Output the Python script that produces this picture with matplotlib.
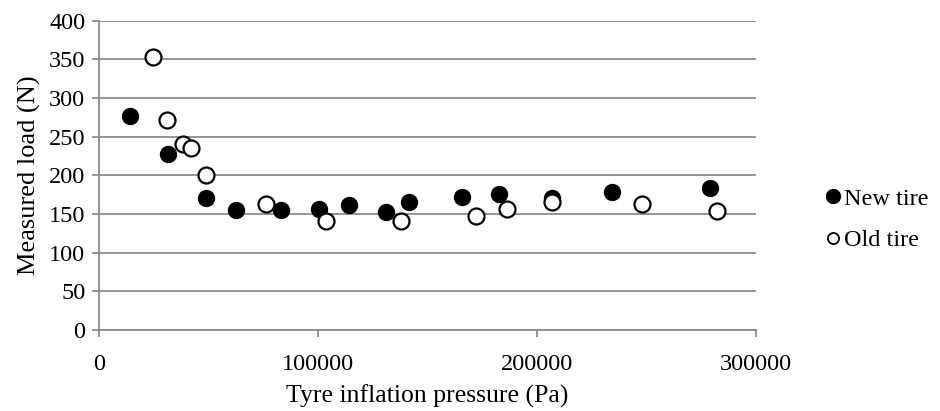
import matplotlib
matplotlib.use("Agg")
import matplotlib.pyplot as plt
from matplotlib.lines import Line2D

plt.rcParams['font.family'] = ['Liberation Serif', 'DejaVu Serif']

new_x = [14000, 31200, 48600, 62300, 83000, 100400, 113900, 131200, 141400,
         165500, 182700, 206600, 234200, 278800]
new_y = [277, 228, 171, 155, 155, 156, 162, 153, 165, 172, 176, 171, 178, 183]

old_x = [24400, 31100, 38100, 41700, 48600, 76000, 103700, 137900, 172300,
         186100, 206600, 248000, 282200]
old_y = [353, 271, 241, 236, 200, 163, 141, 141, 147, 157, 166, 163, 154]

x_ticks = [0, 100000, 200000, 300000]
y_ticks = [0, 50, 100, 150, 200, 250, 300, 350, 400]

fig = plt.figure(figsize=(9.4, 4.11), dpi=100)
ax = fig.add_axes([99.3 / 940, 81 / 411, (756 - 99.3) / 940, (330 - 20.7) / 411])

grid_c = '#8c8c8c'
ax.set_xlim(0, 300000)
ax.set_ylim(0, 400)
ax.set_xticks(x_ticks)
ax.set_yticks(y_ticks)
ax.set_xticklabels([str(v) for v in x_ticks])
ax.set_yticklabels([str(v) for v in y_ticks])
ax.yaxis.grid(True, color=grid_c, linewidth=1.3)
ax.set_axisbelow(True)
for s in ['top', 'right']:
    ax.spines[s].set_visible(False)
for s in ['left', 'bottom']:
    ax.spines[s].set_color(grid_c)
    ax.spines[s].set_linewidth(1.3)
ax.tick_params(axis='both', colors=grid_c, labelcolor='black', labelsize=17.5,
               width=1.3, length=5)
ax.tick_params(axis='x', pad=12)
ax.tick_params(axis='y', pad=5)

ax.plot(new_x, new_y, linestyle='none', marker='o', markersize=11.5,
        markerfacecolor='black', markeredgecolor='black', markeredgewidth=1.0,
        zorder=3)
ax.plot(old_x, old_y, linestyle='none', marker='o', markersize=11.5,
        markerfacecolor='white', markeredgecolor='black', markeredgewidth=1.6,
        zorder=3)

ax.set_xlabel('Tyre inflation pressure (Pa)', fontsize=18.5, labelpad=7)
ax.set_ylabel('Measured load (N)', fontsize=19, labelpad=6)

handles = [
    Line2D([], [], linestyle='none', marker='o', markersize=10,
           markerfacecolor='black', markeredgecolor='black'),
    Line2D([], [], linestyle='none', marker='o', markersize=8,
           markerfacecolor='white', markeredgecolor='black', markeredgewidth=1.3),
]
fig.legend(handles, ['New tire', 'Old tire'], loc='center left',
           bbox_to_anchor=(826 / 940, 1 - 219.5 / 411), frameon=False,
           fontsize=17.5, handlelength=0.6, handletextpad=0.15, labelspacing=0.8,
           borderpad=0, borderaxespad=0)

fig.savefig('out.png', dpi=100)
